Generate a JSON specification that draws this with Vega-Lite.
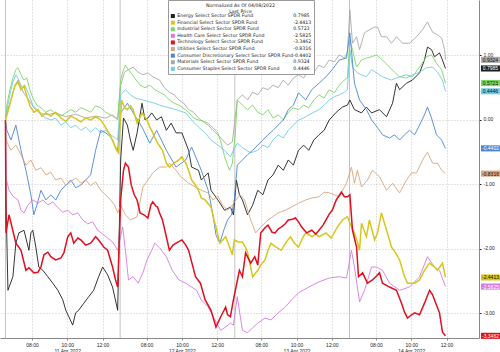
{
 "$schema": "https://vega.github.io/schema/vega-lite/v6.json",
 "width": 479, "height": 338,
 "autosize": {"type": "none"},
 "padding": {"left": 0, "top": 0, "right": 21, "bottom": 14},
 "background": "white",
 "config": {"font": "Liberation Sans", "view": {"stroke": null}},
 "datasets": {
  "days": [{"t": 0}, {"t": 6.5}, {"t": 13}, {"t": 19.5}],
  "last": [
   {"s": "XLE", "v": 0.7985, "label": "0.7985"},
   {"s": "XLF", "v": -2.4413, "label": "-2.4413"},
   {"s": "XLI", "v": 0.5723, "label": "0.5723"},
   {"s": "XLV", "v": -2.5825, "label": "-2.5825"},
   {"s": "XLK", "v": -3.3462, "label": "-3.3462"},
   {"s": "XLU", "v": -0.8316, "label": "-0.8316"},
   {"s": "XLY", "v": -0.4402, "label": "-0.4402"},
   {"s": "XLB", "v": 0.9324, "label": "0.9324"},
   {"s": "XLP", "v": 0.4446, "label": "0.4446"}
  ],
  "series": [
{"s":"XLE","t":0,"v":0},{"s":"XLE","t":0.03,"v":-1.24},{"s":"XLE","t":0.14,"v":-2.64},{"s":"XLE","t":0.42,"v":-2.43},{"s":"XLE","t":0.59,"v":-1.91},{"s":"XLE","t":0.76,"v":-1.75},{"s":"XLE","t":1.05,"v":-1.71},{"s":"XLE","t":1.33,"v":-2.02},{"s":"XLE","t":1.44,"v":-1.75},{"s":"XLE","t":1.55,"v":-1.71},{"s":"XLE","t":1.72,"v":-1.97},{"s":"XLE","t":1.89,"v":-2.28},{"s":"XLE","t":2.12,"v":-2.33},{"s":"XLE","t":2.4,"v":-2.43},{"s":"XLE","t":2.68,"v":-2.53},{"s":"XLE","t":2.97,"v":-2.64},{"s":"XLE","t":3.25,"v":-2.79},{"s":"XLE","t":3.42,"v":-2.95},{"s":"XLE","t":3.59,"v":-3.05},{"s":"XLE","t":3.81,"v":-3.18},{"s":"XLE","t":3.98,"v":-2.99},{"s":"XLE","t":4.15,"v":-2.95},{"s":"XLE","t":4.44,"v":-2.84},{"s":"XLE","t":4.72,"v":-2.74},{"s":"XLE","t":5.0,"v":-2.64},{"s":"XLE","t":5.28,"v":-2.43},{"s":"XLE","t":5.51,"v":-2.28},{"s":"XLE","t":5.79,"v":-2.4},{"s":"XLE","t":6.07,"v":-2.59},{"s":"XLE","t":6.36,"v":-2.95},{"s":"XLE","t":6.53,"v":-0.62},{"s":"XLE","t":6.69,"v":0.03},{"s":"XLE","t":6.91,"v":-0.08},{"s":"XLE","t":7.08,"v":-0.31},{"s":"XLE","t":7.24,"v":-0.47},{"s":"XLE","t":7.46,"v":-0.2},{"s":"XLE","t":7.74,"v":0.26},{"s":"XLE","t":7.91,"v":0},{"s":"XLE","t":8.07,"v":0.03},{"s":"XLE","t":8.29,"v":0.11},{"s":"XLE","t":8.57,"v":0},{"s":"XLE","t":8.84,"v":0.05},{"s":"XLE","t":9.12,"v":-0.16},{"s":"XLE","t":9.39,"v":-0.05},{"s":"XLE","t":9.67,"v":-0.2},{"s":"XLE","t":10.0,"v":-0.2},{"s":"XLE","t":10.38,"v":-0.47},{"s":"XLE","t":10.55,"v":-0.73},{"s":"XLE","t":10.94,"v":-0.78},{"s":"XLE","t":11.1,"v":-0.93},{"s":"XLE","t":11.49,"v":-0.82},{"s":"XLE","t":11.65,"v":-1.09},{"s":"XLE","t":12.04,"v":-1.24},{"s":"XLE","t":12.42,"v":-1.4},{"s":"XLE","t":12.75,"v":-1.35},{"s":"XLE","t":12.92,"v":-1.47},{"s":"XLE","t":13.09,"v":-0.93},{"s":"XLE","t":13.26,"v":-1.16},{"s":"XLE","t":13.43,"v":-1.24},{"s":"XLE","t":13.72,"v":-1.47},{"s":"XLE","t":14.01,"v":-1.32},{"s":"XLE","t":14.3,"v":-1.09},{"s":"XLE","t":14.59,"v":-1.16},{"s":"XLE","t":14.88,"v":-0.93},{"s":"XLE","t":15.17,"v":-0.85},{"s":"XLE","t":15.46,"v":-0.7},{"s":"XLE","t":15.75,"v":-0.78},{"s":"XLE","t":16.03,"v":-0.62},{"s":"XLE","t":16.32,"v":-0.7},{"s":"XLE","t":16.61,"v":-0.47},{"s":"XLE","t":16.9,"v":-0.39},{"s":"XLE","t":17.19,"v":-0.47},{"s":"XLE","t":17.48,"v":-0.31},{"s":"XLE","t":17.77,"v":-0.23},{"s":"XLE","t":18.06,"v":-0.16},{"s":"XLE","t":18.35,"v":0},{"s":"XLE","t":18.52,"v":0.05},{"s":"XLE","t":18.75,"v":0.12},{"s":"XLE","t":19.1,"v":0.2},{"s":"XLE","t":19.38,"v":0.23},{"s":"XLE","t":19.52,"v":0.31},{"s":"XLE","t":19.78,"v":0.16},{"s":"XLE","t":20.18,"v":0.11},{"s":"XLE","t":20.46,"v":0.2},{"s":"XLE","t":20.75,"v":0.11},{"s":"XLE","t":21.2,"v":0.16},{"s":"XLE","t":21.6,"v":0.05},{"s":"XLE","t":21.94,"v":0.26},{"s":"XLE","t":22.16,"v":0.57},{"s":"XLE","t":22.34,"v":0.47},{"s":"XLE","t":22.73,"v":0.57},{"s":"XLE","t":23.07,"v":0.62},{"s":"XLE","t":23.47,"v":0.73},{"s":"XLE","t":23.75,"v":0.93},{"s":"XLE","t":23.92,"v":1.13},{"s":"XLE","t":24.15,"v":1.09},{"s":"XLE","t":24.32,"v":0.98},{"s":"XLE","t":24.6,"v":1.04},{"s":"XLE","t":24.77,"v":0.93},{"s":"XLE","t":24.94,"v":0.7985},
{"s":"XLB","t":0,"v":0},{"s":"XLB","t":0.08,"v":0.12},{"s":"XLB","t":0.31,"v":0.31},{"s":"XLB","t":0.54,"v":0.54},{"s":"XLB","t":0.71,"v":0.62},{"s":"XLB","t":0.88,"v":0.5},{"s":"XLB","t":1.1,"v":0.39},{"s":"XLB","t":1.33,"v":0.31},{"s":"XLB","t":1.61,"v":0.19},{"s":"XLB","t":1.89,"v":0.12},{"s":"XLB","t":2.29,"v":0.08},{"s":"XLB","t":2.85,"v":0.11},{"s":"XLB","t":3.42,"v":0.05},{"s":"XLB","t":3.98,"v":0.09},{"s":"XLB","t":4.55,"v":0.03},{"s":"XLB","t":5.11,"v":0.06},{"s":"XLB","t":5.68,"v":0.03},{"s":"XLB","t":6.07,"v":0.08},{"s":"XLB","t":6.36,"v":0},{"s":"XLB","t":6.53,"v":0.54},{"s":"XLB","t":6.75,"v":0.74},{"s":"XLB","t":6.97,"v":0.78},{"s":"XLB","t":7.24,"v":0.82},{"s":"XLB","t":7.52,"v":0.74},{"s":"XLB","t":7.79,"v":0.7},{"s":"XLB","t":8.07,"v":0.73},{"s":"XLB","t":8.35,"v":0.67},{"s":"XLB","t":8.73,"v":0.62},{"s":"XLB","t":9.01,"v":0.5},{"s":"XLB","t":9.29,"v":0.43},{"s":"XLB","t":9.56,"v":0.39},{"s":"XLB","t":9.83,"v":0.31},{"s":"XLB","t":10.11,"v":0.26},{"s":"XLB","t":10.38,"v":0.16},{"s":"XLB","t":10.66,"v":0.12},{"s":"XLB","t":10.94,"v":0.03},{"s":"XLB","t":11.21,"v":-0.03},{"s":"XLB","t":11.49,"v":-0.08},{"s":"XLB","t":11.76,"v":-0.16},{"s":"XLB","t":12.04,"v":-0.23},{"s":"XLB","t":12.31,"v":-0.31},{"s":"XLB","t":12.59,"v":-0.39},{"s":"XLB","t":12.86,"v":-0.34},{"s":"XLB","t":13.14,"v":0.31},{"s":"XLB","t":13.43,"v":0.39},{"s":"XLB","t":13.72,"v":0.31},{"s":"XLB","t":14.01,"v":0.43},{"s":"XLB","t":14.3,"v":0.39},{"s":"XLB","t":14.59,"v":0.5},{"s":"XLB","t":14.88,"v":0.47},{"s":"XLB","t":15.17,"v":0.54},{"s":"XLB","t":15.46,"v":0.5},{"s":"XLB","t":15.75,"v":0.62},{"s":"XLB","t":16.03,"v":0.54},{"s":"XLB","t":16.32,"v":0.65},{"s":"XLB","t":16.61,"v":0.7},{"s":"XLB","t":16.9,"v":0.65},{"s":"XLB","t":17.19,"v":0.78},{"s":"XLB","t":17.48,"v":0.74},{"s":"XLB","t":17.77,"v":0.85},{"s":"XLB","t":18.06,"v":0.81},{"s":"XLB","t":18.35,"v":0.93},{"s":"XLB","t":18.64,"v":0.9},{"s":"XLB","t":18.92,"v":1.01},{"s":"XLB","t":19.21,"v":0.96},{"s":"XLB","t":19.38,"v":1.05},{"s":"XLB","t":19.52,"v":1.71},{"s":"XLB","t":19.67,"v":1.19},{"s":"XLB","t":19.9,"v":1.29},{"s":"XLB","t":20.07,"v":1.09},{"s":"XLB","t":20.35,"v":1.35},{"s":"XLB","t":20.63,"v":1.4},{"s":"XLB","t":20.92,"v":1.44},{"s":"XLB","t":21.09,"v":1.44},{"s":"XLB","t":21.31,"v":1.29},{"s":"XLB","t":21.6,"v":1.29},{"s":"XLB","t":21.88,"v":1.19},{"s":"XLB","t":22.16,"v":1.29},{"s":"XLB","t":22.51,"v":1.19},{"s":"XLB","t":22.9,"v":1.19},{"s":"XLB","t":23.3,"v":1.29},{"s":"XLB","t":23.64,"v":1.4},{"s":"XLB","t":23.92,"v":1.52},{"s":"XLB","t":24.21,"v":1.36},{"s":"XLB","t":24.49,"v":1.32},{"s":"XLB","t":24.72,"v":1.27},{"s":"XLB","t":24.89,"v":1.09},{"s":"XLB","t":24.94,"v":0.9324},
{"s":"XLI","t":0,"v":0},{"s":"XLI","t":0.08,"v":0.23},{"s":"XLI","t":0.25,"v":0.47},{"s":"XLI","t":0.42,"v":0.65},{"s":"XLI","t":0.59,"v":0.78},{"s":"XLI","t":0.71,"v":0.81},{"s":"XLI","t":0.88,"v":0.7},{"s":"XLI","t":1.05,"v":0.62},{"s":"XLI","t":1.21,"v":0.65},{"s":"XLI","t":1.38,"v":0.47},{"s":"XLI","t":1.55,"v":0.34},{"s":"XLI","t":1.78,"v":0.23},{"s":"XLI","t":2.01,"v":0.19},{"s":"XLI","t":2.29,"v":0.12},{"s":"XLI","t":2.57,"v":0.16},{"s":"XLI","t":2.85,"v":0.09},{"s":"XLI","t":3.14,"v":0.06},{"s":"XLI","t":3.42,"v":0.11},{"s":"XLI","t":3.7,"v":0.16},{"s":"XLI","t":3.98,"v":0.12},{"s":"XLI","t":4.27,"v":0.19},{"s":"XLI","t":4.55,"v":0.16},{"s":"XLI","t":4.83,"v":0.12},{"s":"XLI","t":5.11,"v":0.22},{"s":"XLI","t":5.4,"v":0.19},{"s":"XLI","t":5.68,"v":0.12},{"s":"XLI","t":5.96,"v":0.08},{"s":"XLI","t":6.24,"v":0.03},{"s":"XLI","t":6.36,"v":0.03},{"s":"XLI","t":6.53,"v":0.62},{"s":"XLI","t":6.69,"v":0.78},{"s":"XLI","t":6.8,"v":0.85},{"s":"XLI","t":6.97,"v":0.78},{"s":"XLI","t":7.19,"v":0.7},{"s":"XLI","t":7.41,"v":0.62},{"s":"XLI","t":7.63,"v":0.54},{"s":"XLI","t":7.91,"v":0.5},{"s":"XLI","t":8.18,"v":0.54},{"s":"XLI","t":8.46,"v":0.47},{"s":"XLI","t":8.73,"v":0.43},{"s":"XLI","t":9.01,"v":0.39},{"s":"XLI","t":9.29,"v":0.31},{"s":"XLI","t":9.56,"v":0.26},{"s":"XLI","t":9.83,"v":0.23},{"s":"XLI","t":10.0,"v":0.2},{"s":"XLI","t":10.38,"v":0.12},{"s":"XLI","t":10.66,"v":0.03},{"s":"XLI","t":10.94,"v":0},{"s":"XLI","t":11.21,"v":-0.02},{"s":"XLI","t":11.49,"v":-0.05},{"s":"XLI","t":11.76,"v":-0.12},{"s":"XLI","t":12.04,"v":-0.2},{"s":"XLI","t":12.26,"v":-0.39},{"s":"XLI","t":12.42,"v":-0.57},{"s":"XLI","t":12.59,"v":-0.7},{"s":"XLI","t":12.7,"v":-0.78},{"s":"XLI","t":12.86,"v":-0.67},{"s":"XLI","t":13.03,"v":-0.2},{"s":"XLI","t":13.14,"v":0.31},{"s":"XLI","t":13.43,"v":0.23},{"s":"XLI","t":13.72,"v":0.16},{"s":"XLI","t":14.01,"v":0.23},{"s":"XLI","t":14.3,"v":0.12},{"s":"XLI","t":14.59,"v":0.08},{"s":"XLI","t":14.88,"v":0.16},{"s":"XLI","t":15.17,"v":0.03},{"s":"XLI","t":15.46,"v":0.08},{"s":"XLI","t":15.75,"v":0},{"s":"XLI","t":16.03,"v":0.12},{"s":"XLI","t":16.32,"v":0.19},{"s":"XLI","t":16.61,"v":0.16},{"s":"XLI","t":16.9,"v":0.23},{"s":"XLI","t":17.19,"v":0.19},{"s":"XLI","t":17.48,"v":0.31},{"s":"XLI","t":17.77,"v":0.39},{"s":"XLI","t":18.06,"v":0.34},{"s":"XLI","t":18.35,"v":0.47},{"s":"XLI","t":18.64,"v":0.42},{"s":"XLI","t":18.92,"v":0.54},{"s":"XLI","t":19.21,"v":0.62},{"s":"XLI","t":19.38,"v":0.65},{"s":"XLI","t":19.52,"v":1.24},{"s":"XLI","t":19.67,"v":1.09},{"s":"XLI","t":19.9,"v":0.82},{"s":"XLI","t":20.18,"v":0.93},{"s":"XLI","t":20.46,"v":0.96},{"s":"XLI","t":20.75,"v":0.98},{"s":"XLI","t":21.03,"v":1.01},{"s":"XLI","t":21.37,"v":0.93},{"s":"XLI","t":21.77,"v":0.82},{"s":"XLI","t":22.05,"v":0.74},{"s":"XLI","t":22.34,"v":0.67},{"s":"XLI","t":22.73,"v":0.7},{"s":"XLI","t":23.07,"v":0.67},{"s":"XLI","t":23.47,"v":0.82},{"s":"XLI","t":23.87,"v":0.98},{"s":"XLI","t":24.15,"v":1.01},{"s":"XLI","t":24.43,"v":0.88},{"s":"XLI","t":24.72,"v":0.78},{"s":"XLI","t":24.94,"v":0.5723},
{"s":"XLP","t":0,"v":0},{"s":"XLP","t":0.08,"v":0.16},{"s":"XLP","t":0.25,"v":0.39},{"s":"XLP","t":0.42,"v":0.59},{"s":"XLP","t":0.59,"v":0.7},{"s":"XLP","t":0.76,"v":0.62},{"s":"XLP","t":0.93,"v":0.5},{"s":"XLP","t":1.1,"v":0.54},{"s":"XLP","t":1.33,"v":0.39},{"s":"XLP","t":1.55,"v":0.23},{"s":"XLP","t":1.78,"v":0.16},{"s":"XLP","t":2.01,"v":0.08},{"s":"XLP","t":2.29,"v":0.03},{"s":"XLP","t":2.57,"v":0},{"s":"XLP","t":2.85,"v":0.03},{"s":"XLP","t":3.14,"v":-0.08},{"s":"XLP","t":3.42,"v":-0.03},{"s":"XLP","t":3.7,"v":-0.12},{"s":"XLP","t":3.98,"v":-0.08},{"s":"XLP","t":4.27,"v":-0.16},{"s":"XLP","t":4.55,"v":-0.11},{"s":"XLP","t":4.83,"v":-0.19},{"s":"XLP","t":5.11,"v":-0.12},{"s":"XLP","t":5.4,"v":-0.2},{"s":"XLP","t":5.68,"v":-0.16},{"s":"XLP","t":5.96,"v":-0.23},{"s":"XLP","t":6.24,"v":-0.28},{"s":"XLP","t":6.36,"v":-0.31},{"s":"XLP","t":6.53,"v":0.39},{"s":"XLP","t":6.8,"v":0.47},{"s":"XLP","t":7.08,"v":0.39},{"s":"XLP","t":7.35,"v":0.34},{"s":"XLP","t":7.79,"v":0.31},{"s":"XLP","t":8.18,"v":0.28},{"s":"XLP","t":8.46,"v":0.26},{"s":"XLP","t":8.73,"v":0.23},{"s":"XLP","t":9.12,"v":0.2},{"s":"XLP","t":9.67,"v":0.16},{"s":"XLP","t":10.22,"v":0.11},{"s":"XLP","t":10.55,"v":0},{"s":"XLP","t":10.94,"v":-0.11},{"s":"XLP","t":11.32,"v":-0.2},{"s":"XLP","t":11.65,"v":-0.31},{"s":"XLP","t":12.04,"v":-0.39},{"s":"XLP","t":12.42,"v":-0.47},{"s":"XLP","t":12.75,"v":-0.57},{"s":"XLP","t":12.92,"v":-0.47},{"s":"XLP","t":13.14,"v":-0.36},{"s":"XLP","t":13.43,"v":-0.43},{"s":"XLP","t":13.9,"v":-0.51},{"s":"XLP","t":14.3,"v":-0.47},{"s":"XLP","t":14.59,"v":-0.39},{"s":"XLP","t":14.88,"v":-0.43},{"s":"XLP","t":15.17,"v":-0.31},{"s":"XLP","t":15.46,"v":-0.23},{"s":"XLP","t":15.75,"v":-0.28},{"s":"XLP","t":16.03,"v":-0.16},{"s":"XLP","t":16.32,"v":-0.08},{"s":"XLP","t":16.61,"v":0},{"s":"XLP","t":16.9,"v":0.03},{"s":"XLP","t":17.19,"v":0.08},{"s":"XLP","t":17.48,"v":0.12},{"s":"XLP","t":17.77,"v":0.16},{"s":"XLP","t":18.06,"v":0.23},{"s":"XLP","t":18.35,"v":0.31},{"s":"XLP","t":18.64,"v":0.36},{"s":"XLP","t":18.92,"v":0.39},{"s":"XLP","t":19.21,"v":0.43},{"s":"XLP","t":19.38,"v":0.47},{"s":"XLP","t":19.52,"v":1.09},{"s":"XLP","t":19.67,"v":0.82},{"s":"XLP","t":19.95,"v":0.73},{"s":"XLP","t":20.18,"v":0.7},{"s":"XLP","t":20.46,"v":0.67},{"s":"XLP","t":20.75,"v":0.78},{"s":"XLP","t":21.03,"v":0.73},{"s":"XLP","t":21.37,"v":0.67},{"s":"XLP","t":21.88,"v":0.62},{"s":"XLP","t":22.34,"v":0.67},{"s":"XLP","t":22.73,"v":0.65},{"s":"XLP","t":23.07,"v":0.7},{"s":"XLP","t":23.47,"v":0.74},{"s":"XLP","t":23.87,"v":0.81},{"s":"XLP","t":24.21,"v":0.82},{"s":"XLP","t":24.49,"v":0.74},{"s":"XLP","t":24.77,"v":0.62},{"s":"XLP","t":24.94,"v":0.4446},
{"s":"XLY","t":0,"v":0},{"s":"XLY","t":0.08,"v":-0.16},{"s":"XLY","t":0.31,"v":-0.31},{"s":"XLY","t":0.59,"v":-0.08},{"s":"XLY","t":0.88,"v":-0.47},{"s":"XLY","t":1.16,"v":-0.78},{"s":"XLY","t":1.44,"v":-1.16},{"s":"XLY","t":1.61,"v":-1.47},{"s":"XLY","t":1.78,"v":-1.32},{"s":"XLY","t":2.01,"v":-1.09},{"s":"XLY","t":2.29,"v":-1.24},{"s":"XLY","t":2.57,"v":-1.16},{"s":"XLY","t":2.85,"v":-1.24},{"s":"XLY","t":3.14,"v":-1.09},{"s":"XLY","t":3.42,"v":-1.01},{"s":"XLY","t":3.7,"v":-0.93},{"s":"XLY","t":3.98,"v":-1.05},{"s":"XLY","t":4.27,"v":-1.01},{"s":"XLY","t":4.55,"v":-0.93},{"s":"XLY","t":4.83,"v":-0.85},{"s":"XLY","t":5.11,"v":-0.47},{"s":"XLY","t":5.4,"v":-0.16},{"s":"XLY","t":5.68,"v":-0.2},{"s":"XLY","t":5.96,"v":-0.26},{"s":"XLY","t":6.24,"v":-0.42},{"s":"XLY","t":6.36,"v":-0.47},{"s":"XLY","t":6.53,"v":0.11},{"s":"XLY","t":6.91,"v":0.26},{"s":"XLY","t":7.24,"v":0.11},{"s":"XLY","t":7.74,"v":-0.11},{"s":"XLY","t":8.18,"v":-0.36},{"s":"XLY","t":8.57,"v":-0.16},{"s":"XLY","t":9.12,"v":-0.47},{"s":"XLY","t":9.67,"v":-0.73},{"s":"XLY","t":10.22,"v":-0.62},{"s":"XLY","t":10.55,"v":-0.42},{"s":"XLY","t":11.1,"v":-0.78},{"s":"XLY","t":11.49,"v":-1.09},{"s":"XLY","t":11.76,"v":-1.47},{"s":"XLY","t":11.93,"v":-1.78},{"s":"XLY","t":12.15,"v":-1.91},{"s":"XLY","t":12.37,"v":-1.71},{"s":"XLY","t":12.59,"v":-1.55},{"s":"XLY","t":12.81,"v":-1.47},{"s":"XLY","t":12.97,"v":-1.24},{"s":"XLY","t":13.14,"v":-0.7},{"s":"XLY","t":13.43,"v":-0.62},{"s":"XLY","t":13.72,"v":-0.54},{"s":"XLY","t":14.01,"v":-0.47},{"s":"XLY","t":14.3,"v":-0.39},{"s":"XLY","t":14.59,"v":-0.31},{"s":"XLY","t":14.88,"v":-0.23},{"s":"XLY","t":15.17,"v":-0.16},{"s":"XLY","t":15.46,"v":-0.08},{"s":"XLY","t":15.75,"v":0},{"s":"XLY","t":16.03,"v":0.16},{"s":"XLY","t":16.32,"v":0.23},{"s":"XLY","t":16.61,"v":0.42},{"s":"XLY","t":17.02,"v":0.31},{"s":"XLY","t":17.36,"v":0.47},{"s":"XLY","t":17.77,"v":0.57},{"s":"XLY","t":18.17,"v":0.67},{"s":"XLY","t":18.52,"v":0.78},{"s":"XLY","t":18.92,"v":0.93},{"s":"XLY","t":19.33,"v":0.96},{"s":"XLY","t":19.52,"v":1.35},{"s":"XLY","t":19.78,"v":0.57},{"s":"XLY","t":20.07,"v":0.31},{"s":"XLY","t":20.46,"v":0.16},{"s":"XLY","t":20.75,"v":0},{"s":"XLY","t":21.09,"v":-0.12},{"s":"XLY","t":21.37,"v":-0.23},{"s":"XLY","t":21.77,"v":-0.28},{"s":"XLY","t":22.05,"v":-0.23},{"s":"XLY","t":22.34,"v":-0.31},{"s":"XLY","t":22.62,"v":-0.23},{"s":"XLY","t":22.9,"v":-0.16},{"s":"XLY","t":23.19,"v":-0.23},{"s":"XLY","t":23.47,"v":-0.08},{"s":"XLY","t":23.75,"v":0.08},{"s":"XLY","t":23.92,"v":0.2},{"s":"XLY","t":24.15,"v":0.03},{"s":"XLY","t":24.43,"v":-0.23},{"s":"XLY","t":24.72,"v":-0.31},{"s":"XLY","t":24.94,"v":-0.4402},
{"s":"XLU","t":0,"v":0},{"s":"XLU","t":0.03,"v":-0.31},{"s":"XLU","t":0.31,"v":-0.47},{"s":"XLU","t":0.59,"v":-0.39},{"s":"XLU","t":0.88,"v":-0.54},{"s":"XLU","t":1.16,"v":-0.7},{"s":"XLU","t":1.44,"v":-0.62},{"s":"XLU","t":1.72,"v":-0.78},{"s":"XLU","t":2.01,"v":-0.74},{"s":"XLU","t":2.29,"v":-0.85},{"s":"XLU","t":2.57,"v":-0.81},{"s":"XLU","t":2.85,"v":-0.93},{"s":"XLU","t":3.14,"v":-0.9},{"s":"XLU","t":3.42,"v":-1.01},{"s":"XLU","t":3.7,"v":-0.96},{"s":"XLU","t":3.98,"v":-0.9},{"s":"XLU","t":4.27,"v":-0.98},{"s":"XLU","t":4.55,"v":-0.93},{"s":"XLU","t":4.83,"v":-1.02},{"s":"XLU","t":5.11,"v":-0.96},{"s":"XLU","t":5.4,"v":-1.09},{"s":"XLU","t":5.68,"v":-1.16},{"s":"XLU","t":5.96,"v":-1.24},{"s":"XLU","t":6.19,"v":-1.32},{"s":"XLU","t":6.36,"v":-1.44},{"s":"XLU","t":6.53,"v":-1.32},{"s":"XLU","t":6.8,"v":-1.47},{"s":"XLU","t":7.08,"v":-1.55},{"s":"XLU","t":7.46,"v":-1.5},{"s":"XLU","t":7.79,"v":-1.04},{"s":"XLU","t":8.07,"v":-0.93},{"s":"XLU","t":8.35,"v":-0.82},{"s":"XLU","t":8.73,"v":-0.73},{"s":"XLU","t":9.12,"v":-0.73},{"s":"XLU","t":9.29,"v":-0.67},{"s":"XLU","t":9.67,"v":-0.78},{"s":"XLU","t":9.94,"v":-0.88},{"s":"XLU","t":10.38,"v":-0.98},{"s":"XLU","t":10.77,"v":-1.04},{"s":"XLU","t":11.1,"v":-1.09},{"s":"XLU","t":11.49,"v":-1.13},{"s":"XLU","t":11.76,"v":-1.24},{"s":"XLU","t":12.04,"v":-1.18},{"s":"XLU","t":12.31,"v":-1.32},{"s":"XLU","t":12.59,"v":-1.4},{"s":"XLU","t":12.86,"v":-1.32},{"s":"XLU","t":13.14,"v":-1.21},{"s":"XLU","t":13.32,"v":-1.16},{"s":"XLU","t":13.55,"v":-1.24},{"s":"XLU","t":13.9,"v":-1.55},{"s":"XLU","t":14.18,"v":-1.75},{"s":"XLU","t":14.47,"v":-1.66},{"s":"XLU","t":14.88,"v":-1.55},{"s":"XLU","t":15.46,"v":-1.44},{"s":"XLU","t":15.86,"v":-1.4},{"s":"XLU","t":16.21,"v":-1.35},{"s":"XLU","t":16.61,"v":-1.29},{"s":"XLU","t":17.02,"v":-1.24},{"s":"XLU","t":17.36,"v":-1.21},{"s":"XLU","t":17.77,"v":-1.19},{"s":"XLU","t":18.06,"v":-1.12},{"s":"XLU","t":18.35,"v":-1.13},{"s":"XLU","t":18.64,"v":-1.16},{"s":"XLU","t":18.92,"v":-1.19},{"s":"XLU","t":19.33,"v":-0.98},{"s":"XLU","t":19.61,"v":-0.73},{"s":"XLU","t":19.78,"v":-0.98},{"s":"XLU","t":19.95,"v":-0.78},{"s":"XLU","t":20.18,"v":-1.04},{"s":"XLU","t":20.52,"v":-0.93},{"s":"XLU","t":20.8,"v":-0.78},{"s":"XLU","t":21.2,"v":-0.88},{"s":"XLU","t":21.6,"v":-1.09},{"s":"XLU","t":21.94,"v":-0.98},{"s":"XLU","t":22.34,"v":-1.13},{"s":"XLU","t":22.73,"v":-0.93},{"s":"XLU","t":23.02,"v":-0.82},{"s":"XLU","t":23.3,"v":-0.82},{"s":"XLU","t":23.64,"v":-0.62},{"s":"XLU","t":23.92,"v":-0.5},{"s":"XLU","t":24.21,"v":-0.67},{"s":"XLU","t":24.49,"v":-0.67},{"s":"XLU","t":24.72,"v":-0.78},{"s":"XLU","t":24.94,"v":-0.8316},
{"s":"XLV","t":0,"v":0},{"s":"XLV","t":0.03,"v":-0.9},{"s":"XLV","t":0.2,"v":-1.09},{"s":"XLV","t":0.42,"v":-1.18},{"s":"XLV","t":0.71,"v":-1.24},{"s":"XLV","t":0.88,"v":-1.4},{"s":"XLV","t":1.05,"v":-1.44},{"s":"XLV","t":1.27,"v":-1.32},{"s":"XLV","t":1.55,"v":-1.24},{"s":"XLV","t":1.84,"v":-1.29},{"s":"XLV","t":2.12,"v":-1.24},{"s":"XLV","t":2.4,"v":-1.32},{"s":"XLV","t":2.68,"v":-1.27},{"s":"XLV","t":2.97,"v":-1.36},{"s":"XLV","t":3.25,"v":-1.43},{"s":"XLV","t":3.53,"v":-1.4},{"s":"XLV","t":3.81,"v":-1.47},{"s":"XLV","t":4.1,"v":-1.44},{"s":"XLV","t":4.38,"v":-1.55},{"s":"XLV","t":4.66,"v":-1.61},{"s":"XLV","t":4.94,"v":-1.58},{"s":"XLV","t":5.23,"v":-1.71},{"s":"XLV","t":5.51,"v":-1.77},{"s":"XLV","t":5.79,"v":-1.83},{"s":"XLV","t":6.07,"v":-1.89},{"s":"XLV","t":6.36,"v":-2.02},{"s":"XLV","t":6.64,"v":-1.66},{"s":"XLV","t":6.8,"v":-2.02},{"s":"XLV","t":6.97,"v":-2.48},{"s":"XLV","t":7.24,"v":-2.43},{"s":"XLV","t":7.52,"v":-2.53},{"s":"XLV","t":7.79,"v":-2.37},{"s":"XLV","t":8.02,"v":-2.17},{"s":"XLV","t":8.29,"v":-2.02},{"s":"XLV","t":8.46,"v":-1.91},{"s":"XLV","t":8.73,"v":-1.98},{"s":"XLV","t":9.12,"v":-2.12},{"s":"XLV","t":9.45,"v":-2.33},{"s":"XLV","t":9.83,"v":-2.48},{"s":"XLV","t":10.22,"v":-2.53},{"s":"XLV","t":10.55,"v":-2.59},{"s":"XLV","t":10.83,"v":-2.64},{"s":"XLV","t":11.1,"v":-2.79},{"s":"XLV","t":11.49,"v":-2.9},{"s":"XLV","t":11.87,"v":-3.1},{"s":"XLV","t":12.2,"v":-3.26},{"s":"XLV","t":12.48,"v":-3.21},{"s":"XLV","t":12.75,"v":-3.15},{"s":"XLV","t":12.92,"v":-3.18},{"s":"XLV","t":13.14,"v":-2.74},{"s":"XLV","t":13.43,"v":-3.26},{"s":"XLV","t":13.72,"v":-3.3},{"s":"XLV","t":14.01,"v":-3.22},{"s":"XLV","t":14.3,"v":-3.15},{"s":"XLV","t":14.71,"v":-3.07},{"s":"XLV","t":15.05,"v":-3.1},{"s":"XLV","t":15.46,"v":-2.99},{"s":"XLV","t":15.86,"v":-2.9},{"s":"XLV","t":16.21,"v":-2.79},{"s":"XLV","t":16.61,"v":-2.68},{"s":"XLV","t":17.19,"v":-2.59},{"s":"XLV","t":17.77,"v":-2.51},{"s":"XLV","t":18.35,"v":-2.45},{"s":"XLV","t":18.92,"v":-2.43},{"s":"XLV","t":19.33,"v":-2.45},{"s":"XLV","t":19.61,"v":-2.02},{"s":"XLV","t":19.78,"v":-2.28},{"s":"XLV","t":20.07,"v":-2.82},{"s":"XLV","t":20.35,"v":-2.64},{"s":"XLV","t":20.75,"v":-2.28},{"s":"XLV","t":21.03,"v":-2.28},{"s":"XLV","t":21.37,"v":-2.33},{"s":"XLV","t":21.77,"v":-2.53},{"s":"XLV","t":22.34,"v":-2.64},{"s":"XLV","t":22.9,"v":-2.59},{"s":"XLV","t":23.47,"v":-2.43},{"s":"XLV","t":23.92,"v":-2.12},{"s":"XLV","t":24.32,"v":-2.28},{"s":"XLV","t":24.6,"v":-2.33},{"s":"XLV","t":24.94,"v":-2.5825},
{"s":"XLF","t":0,"v":0},{"s":"XLF","t":0.2,"v":0.19},{"s":"XLF","t":0.37,"v":0.37},{"s":"XLF","t":0.54,"v":0.53},{"s":"XLF","t":0.71,"v":0.59},{"s":"XLF","t":0.88,"v":0.47},{"s":"XLF","t":1.05,"v":0.53},{"s":"XLF","t":1.21,"v":0.37},{"s":"XLF","t":1.38,"v":0.22},{"s":"XLF","t":1.61,"v":0.12},{"s":"XLF","t":1.84,"v":0.16},{"s":"XLF","t":2.06,"v":0.06},{"s":"XLF","t":2.29,"v":0.11},{"s":"XLF","t":2.57,"v":0.06},{"s":"XLF","t":2.85,"v":0.12},{"s":"XLF","t":3.14,"v":0.03},{"s":"XLF","t":3.42,"v":-0.02},{"s":"XLF","t":3.7,"v":0.06},{"s":"XLF","t":3.98,"v":0.02},{"s":"XLF","t":4.27,"v":-0.03},{"s":"XLF","t":4.55,"v":0.03},{"s":"XLF","t":4.83,"v":0},{"s":"XLF","t":5.11,"v":0.05},{"s":"XLF","t":5.4,"v":0},{"s":"XLF","t":5.62,"v":-0.09},{"s":"XLF","t":5.85,"v":-0.2},{"s":"XLF","t":6.07,"v":-0.31},{"s":"XLF","t":6.3,"v":-0.47},{"s":"XLF","t":6.41,"v":-0.51},{"s":"XLF","t":6.58,"v":0.31},{"s":"XLF","t":6.75,"v":0.19},{"s":"XLF","t":6.91,"v":0.16},{"s":"XLF","t":7.08,"v":0.22},{"s":"XLF","t":7.24,"v":0.16},{"s":"XLF","t":7.46,"v":-0.05},{"s":"XLF","t":7.74,"v":0.11},{"s":"XLF","t":8.02,"v":0},{"s":"XLF","t":8.18,"v":-0.11},{"s":"XLF","t":8.35,"v":-0.2},{"s":"XLF","t":8.62,"v":-0.36},{"s":"XLF","t":8.9,"v":-0.47},{"s":"XLF","t":9.12,"v":-0.67},{"s":"XLF","t":9.29,"v":-0.73},{"s":"XLF","t":9.56,"v":-0.67},{"s":"XLF","t":9.83,"v":-0.62},{"s":"XLF","t":10.0,"v":-0.57},{"s":"XLF","t":10.22,"v":-0.67},{"s":"XLF","t":10.38,"v":-0.78},{"s":"XLF","t":10.55,"v":-0.93},{"s":"XLF","t":10.77,"v":-1.01},{"s":"XLF","t":10.94,"v":-1.09},{"s":"XLF","t":11.1,"v":-1.21},{"s":"XLF","t":11.32,"v":-1.24},{"s":"XLF","t":11.49,"v":-1.3},{"s":"XLF","t":11.65,"v":-1.35},{"s":"XLF","t":11.82,"v":-1.55},{"s":"XLF","t":11.93,"v":-1.66},{"s":"XLF","t":12.15,"v":-1.91},{"s":"XLF","t":12.48,"v":-1.81},{"s":"XLF","t":12.7,"v":-1.97},{"s":"XLF","t":12.86,"v":-2.09},{"s":"XLF","t":12.97,"v":-1.86},{"s":"XLF","t":13.2,"v":-1.89},{"s":"XLF","t":13.43,"v":-1.89},{"s":"XLF","t":13.61,"v":-1.98},{"s":"XLF","t":13.72,"v":-2.05},{"s":"XLF","t":14.01,"v":-2.43},{"s":"XLF","t":14.3,"v":-2.33},{"s":"XLF","t":14.47,"v":-2.25},{"s":"XLF","t":14.71,"v":-2.17},{"s":"XLF","t":14.88,"v":-2.02},{"s":"XLF","t":15.05,"v":-1.91},{"s":"XLF","t":15.34,"v":-1.97},{"s":"XLF","t":15.63,"v":-2.02},{"s":"XLF","t":15.92,"v":-1.89},{"s":"XLF","t":16.15,"v":-1.81},{"s":"XLF","t":16.38,"v":-1.91},{"s":"XLF","t":16.61,"v":-1.97},{"s":"XLF","t":16.84,"v":-1.83},{"s":"XLF","t":17.02,"v":-1.75},{"s":"XLF","t":17.36,"v":-1.81},{"s":"XLF","t":17.59,"v":-1.77},{"s":"XLF","t":17.77,"v":-1.81},{"s":"XLF","t":18.17,"v":-1.75},{"s":"XLF","t":18.46,"v":-1.83},{"s":"XLF","t":18.81,"v":-1.66},{"s":"XLF","t":19.1,"v":-1.55},{"s":"XLF","t":19.38,"v":-1.5},{"s":"XLF","t":19.61,"v":-1.66},{"s":"XLF","t":19.78,"v":-1.75},{"s":"XLF","t":19.95,"v":-1.89},{"s":"XLF","t":20.07,"v":-2.02},{"s":"XLF","t":20.18,"v":-1.6},{"s":"XLF","t":20.46,"v":-1.81},{"s":"XLF","t":20.63,"v":-1.55},{"s":"XLF","t":20.92,"v":-1.86},{"s":"XLF","t":21.09,"v":-1.75},{"s":"XLF","t":21.31,"v":-1.44},{"s":"XLF","t":21.6,"v":-1.71},{"s":"XLF","t":21.88,"v":-1.97},{"s":"XLF","t":22.11,"v":-2.06},{"s":"XLF","t":22.34,"v":-2.17},{"s":"XLF","t":22.62,"v":-2.43},{"s":"XLF","t":22.79,"v":-2.53},{"s":"XLF","t":23.19,"v":-2.53},{"s":"XLF","t":23.47,"v":-2.48},{"s":"XLF","t":23.75,"v":-2.33},{"s":"XLF","t":24.04,"v":-2.22},{"s":"XLF","t":24.32,"v":-2.28},{"s":"XLF","t":24.49,"v":-2.33},{"s":"XLF","t":24.77,"v":-2.22},{"s":"XLF","t":24.94,"v":-2.4413},
{"s":"XLK","t":0,"v":0},{"s":"XLK","t":0.03,"v":-1.75},{"s":"XLK","t":0.2,"v":-1.47},{"s":"XLK","t":0.59,"v":-1.91},{"s":"XLK","t":0.88,"v":-2.02},{"s":"XLK","t":1.16,"v":-2.33},{"s":"XLK","t":1.33,"v":-2.29},{"s":"XLK","t":1.61,"v":-2.37},{"s":"XLK","t":1.84,"v":-2.36},{"s":"XLK","t":2.01,"v":-2.28},{"s":"XLK","t":2.18,"v":-2.09},{"s":"XLK","t":2.4,"v":-2.05},{"s":"XLK","t":2.57,"v":-2.12},{"s":"XLK","t":2.85,"v":-2.17},{"s":"XLK","t":3.14,"v":-2.14},{"s":"XLK","t":3.31,"v":-2.06},{"s":"XLK","t":3.53,"v":-1.81},{"s":"XLK","t":3.7,"v":-1.75},{"s":"XLK","t":3.87,"v":-1.91},{"s":"XLK","t":4.1,"v":-1.83},{"s":"XLK","t":4.27,"v":-1.86},{"s":"XLK","t":4.55,"v":-1.94},{"s":"XLK","t":4.83,"v":-1.91},{"s":"XLK","t":5.11,"v":-1.81},{"s":"XLK","t":5.28,"v":-1.86},{"s":"XLK","t":5.57,"v":-1.97},{"s":"XLK","t":5.79,"v":-2.02},{"s":"XLK","t":6.07,"v":-2.28},{"s":"XLK","t":6.24,"v":-2.48},{"s":"XLK","t":6.36,"v":-2.59},{"s":"XLK","t":6.53,"v":-1.24},{"s":"XLK","t":6.69,"v":-0.78},{"s":"XLK","t":6.8,"v":-0.67},{"s":"XLK","t":6.97,"v":-0.73},{"s":"XLK","t":7.13,"v":-1.01},{"s":"XLK","t":7.3,"v":-1.16},{"s":"XLK","t":7.46,"v":-1.24},{"s":"XLK","t":7.63,"v":-1.44},{"s":"XLK","t":7.85,"v":-1.47},{"s":"XLK","t":8.07,"v":-1.52},{"s":"XLK","t":8.24,"v":-1.32},{"s":"XLK","t":8.35,"v":-1.27},{"s":"XLK","t":8.51,"v":-1.33},{"s":"XLK","t":8.62,"v":-1.35},{"s":"XLK","t":8.73,"v":-1.44},{"s":"XLK","t":8.9,"v":-1.55},{"s":"XLK","t":9.06,"v":-1.74},{"s":"XLK","t":9.29,"v":-2.02},{"s":"XLK","t":9.5,"v":-1.94},{"s":"XLK","t":9.67,"v":-1.91},{"s":"XLK","t":10.0,"v":-1.86},{"s":"XLK","t":10.22,"v":-1.94},{"s":"XLK","t":10.38,"v":-2.02},{"s":"XLK","t":10.6,"v":-2.25},{"s":"XLK","t":10.77,"v":-2.43},{"s":"XLK","t":11.05,"v":-2.53},{"s":"XLK","t":11.32,"v":-2.79},{"s":"XLK","t":11.65,"v":-2.95},{"s":"XLK","t":11.93,"v":-3.21},{"s":"XLK","t":12.2,"v":-3.05},{"s":"XLK","t":12.48,"v":-2.9},{"s":"XLK","t":12.59,"v":-3.02},{"s":"XLK","t":12.75,"v":-3.05},{"s":"XLK","t":12.92,"v":-2.79},{"s":"XLK","t":13.03,"v":-2.64},{"s":"XLK","t":13.26,"v":-2.33},{"s":"XLK","t":13.43,"v":-2.43},{"s":"XLK","t":13.61,"v":-2.06},{"s":"XLK","t":13.9,"v":-2.22},{"s":"XLK","t":14.13,"v":-2.12},{"s":"XLK","t":14.3,"v":-2.25},{"s":"XLK","t":14.47,"v":-1.75},{"s":"XLK","t":14.71,"v":-1.67},{"s":"XLK","t":14.88,"v":-1.63},{"s":"XLK","t":15.11,"v":-1.74},{"s":"XLK","t":15.28,"v":-1.75},{"s":"XLK","t":15.46,"v":-1.69},{"s":"XLK","t":15.63,"v":-1.66},{"s":"XLK","t":15.86,"v":-1.61},{"s":"XLK","t":16.03,"v":-1.55},{"s":"XLK","t":16.27,"v":-1.54},{"s":"XLK","t":16.44,"v":-1.52},{"s":"XLK","t":16.61,"v":-1.58},{"s":"XLK","t":16.79,"v":-1.66},{"s":"XLK","t":17.07,"v":-1.75},{"s":"XLK","t":17.36,"v":-1.71},{"s":"XLK","t":17.59,"v":-1.77},{"s":"XLK","t":17.77,"v":-1.71},{"s":"XLK","t":18.0,"v":-1.63},{"s":"XLK","t":18.17,"v":-1.55},{"s":"XLK","t":18.35,"v":-1.46},{"s":"XLK","t":18.52,"v":-1.4},{"s":"XLK","t":18.75,"v":-1.24},{"s":"XLK","t":19.04,"v":-1.12},{"s":"XLK","t":19.21,"v":-1.19},{"s":"XLK","t":19.38,"v":-1.19},{"s":"XLK","t":19.52,"v":-1.16},{"s":"XLK","t":19.67,"v":-1.71},{"s":"XLK","t":19.9,"v":-1.97},{"s":"XLK","t":20.01,"v":-2.43},{"s":"XLK","t":20.24,"v":-2.37},{"s":"XLK","t":20.52,"v":-2.53},{"s":"XLK","t":20.8,"v":-2.48},{"s":"XLK","t":21.03,"v":-2.42},{"s":"XLK","t":21.2,"v":-2.37},{"s":"XLK","t":21.37,"v":-2.53},{"s":"XLK","t":21.77,"v":-2.59},{"s":"XLK","t":22.16,"v":-2.64},{"s":"XLK","t":22.45,"v":-2.84},{"s":"XLK","t":22.62,"v":-2.98},{"s":"XLK","t":22.79,"v":-3.07},{"s":"XLK","t":23.02,"v":-3.02},{"s":"XLK","t":23.19,"v":-2.99},{"s":"XLK","t":23.47,"v":-3.02},{"s":"XLK","t":23.75,"v":-2.84},{"s":"XLK","t":24.04,"v":-2.64},{"s":"XLK","t":24.21,"v":-2.71},{"s":"XLK","t":24.32,"v":-2.79},{"s":"XLK","t":24.6,"v":-2.99},{"s":"XLK","t":24.77,"v":-3.29},{"s":"XLK","t":24.94,"v":-3.3462}
  ]
 },
 "layer": [
  {
   "data": {"name": "days"},
   "mark": {"type": "rule", "color": "#c4c4c4", "strokeWidth": 1},
   "encoding": {
    "x": {"field": "t", "type": "quantitative",
     "scale": {"domain": [-0.31, 26.84], "nice": false, "zero": false},
     "axis": {"orient": "bottom", "title": null,
      "values": [1.5, 3.5, 5.5, 8, 10, 12, 14.5, 16.5, 18.5, 21, 23, 25],
      "labelExpr": "[datum.value % 6.5 == 1.5 ? '08:00' : datum.value % 6.5 == 3.5 ? '10:00' : '12:00', datum.value % 6.5 == 3.5 ? ['11 Apr 2022','12 Apr 2022','13 Apr 2022','14 Apr 2022'][floor(datum.value / 6.5)] : '']",
      "labelFontSize": 5, "labelLineHeight": 6, "labelColor": "#222", "labelPadding": 2,
      "tickSize": 2, "tickColor": "#888", "domainColor": "#888",
      "grid": true, "gridDash": [1, 2], "gridColor": "#c8c8c8"}}
   }
  },
  {
   "data": {"name": "series"},
   "transform": [{"filter": "datum.s != 'XLK' && datum.s != 'XLF'"}],
   "mark": {"type": "line", "strokeWidth": 0.9, "interpolate": "linear"},
   "encoding": {
    "x": {"field": "t", "type": "quantitative"},
    "y": {"field": "v", "type": "quantitative",
     "scale": {"domain": [-3.38, 1.86], "nice": false, "zero": false},
     "axis": {"orient": "right", "title": null, "values": [-3, -2, -1, 0, 1],
      "labelExpr": "(datum.value < 0 ? '-' : '') + format(abs(datum.value), '.2f')",
      "labelFontSize": 5, "labelColor": "#222", "labelPadding": 2, "labelOffset": -1,
      "tickSize": 2, "tickColor": "#222", "domainColor": "#888",
      "grid": true, "gridDash": [1, 2], "gridColor": "#c8c8c8"}},
    "color": {"field": "s", "type": "nominal",
     "scale": {"domain": ["XLE", "XLF", "XLI", "XLV", "XLK", "XLU", "XLY", "XLB", "XLP"],
      "range": ["#1e1e1e", "#d8c61c", "#78d860", "#d57be3", "#e0101e", "#d9a57c", "#4a86d4", "#a9a9a9", "#70cbe6"]},
     "legend": {"orient": "none", "legendX": 168, "legendY": 11.2, "zindex": 1,
      "title": null,
      "symbolType": "square", "symbolSize": 16, "symbolStrokeWidth": 0,
      "labelFont": "DejaVu Sans", "labelFontSize": 4.7, "labelColor": "#222", "labelOffset": 2, "labelLimit": 400,
      "rowPadding": 0.6, "padding": 2.5,
      "labelExpr": "{'XLE':'Energy Select Sector SPDR Fund','XLF':'Financial Select Sector SPDR Fund','XLI':'Industrial Select Sector SPDR Fund','XLV':'Health Care Select Sector SPDR Fund','XLK':'Technology Select Sector SPDR Fund','XLU':'Utilities Select Sector SPDR Fund','XLY':'Consumer Discretionary Select Sector SPDR Fund','XLB':'Materials Select Sector SPDR Fund','XLP':'Consumer Staples Select Sector SPDR Fund'}[datum.label]",
      "encode": {"symbols": {"update": {"fill": {"scale": "color", "field": "value"}, "stroke": {"value": "transparent"}, "shape": {"value": "square"}}}}}}
   }
  },
  {
   "data": {"name": "series"},
   "transform": [{"filter": "datum.s == 'XLK' || datum.s == 'XLF'"}],
   "mark": {"type": "line", "strokeWidth": 1.5, "interpolate": "linear"},
   "encoding": {
    "x": {"field": "t", "type": "quantitative"},
    "y": {"field": "v", "type": "quantitative"},
    "color": {"field": "s", "type": "nominal"}
   }
  },
  {
   "data": {"name": "last"},
   "mark": {"type": "point", "filled": true, "opacity": 1, "size": 361, "strokeWidth": 0},
   "encoding": {
    "x": {"datum": 27.49, "type": "quantitative"},
    "y": {"field": "v", "type": "quantitative"},
    "color": {"field": "s", "type": "nominal"},
    "shape": {"field": "label", "type": "nominal",
     "scale": {"domain": ["0.7985", "-2.4413", "0.5723", "-2.5825", "-3.3462", "-0.8316", "-0.4402", "0.9324", "0.4446"],
      "range": ["M-1,-0.32L1,-0.32L1,0.32L-1,0.32Z", "M-1,-0.32L1,-0.32L1,0.32L-1,0.32Z", "M-1,-0.32L1,-0.32L1,0.32L-1,0.32Z", "M-1,-0.32L1,-0.32L1,0.32L-1,0.32Z", "M-1,-0.32L1,-0.32L1,0.32L-1,0.32Z", "M-1,-0.32L1,-0.32L1,0.32L-1,0.32Z", "M-1,-0.32L1,-0.32L1,0.32L-1,0.32Z", "M-1,-0.32L1,-0.32L1,0.32L-1,0.32Z", "M-1,-0.32L1,-0.32L1,0.32L-1,0.32Z"]},
     "legend": {"orient": "none", "legendX": 168, "legendY": 0, "zindex": 0,
      "title": ["Normalized As Of 04/08/2022", "Last Price"],
      "titleFont": "DejaVu Sans", "titleFontSize": 4.7, "titleFontWeight": "normal", "titleColor": "#222",
      "titleAnchor": "middle", "titleAlign": "center", "titleLineHeight": 6, "titlePadding": 0.5,
      "symbolSize": 16, "symbolOpacity": 0, "symbolStrokeWidth": 0,
      "labelFont": "DejaVu Sans", "labelFontSize": 4.7, "labelColor": "#222", "labelOffset": 118,
      "rowPadding": 0.6, "padding": 2.5, "fillColor": "white", "strokeColor": "#9a9a9a"}}
   }
  },
  {
   "data": {"name": "last"},
   "mark": {"type": "text", "fontSize": 5, "align": "center", "baseline": "middle"},
   "encoding": {
    "x": {"datum": 27.49, "type": "quantitative"},
    "y": {"field": "v", "type": "quantitative"},
    "text": {"field": "label"},
    "color": {"condition": {"test": "indexof(['XLE','XLY','XLV','XLK'], datum.s) >= 0", "value": "white"}, "value": "#111"}
   }
  }
 ]
}
